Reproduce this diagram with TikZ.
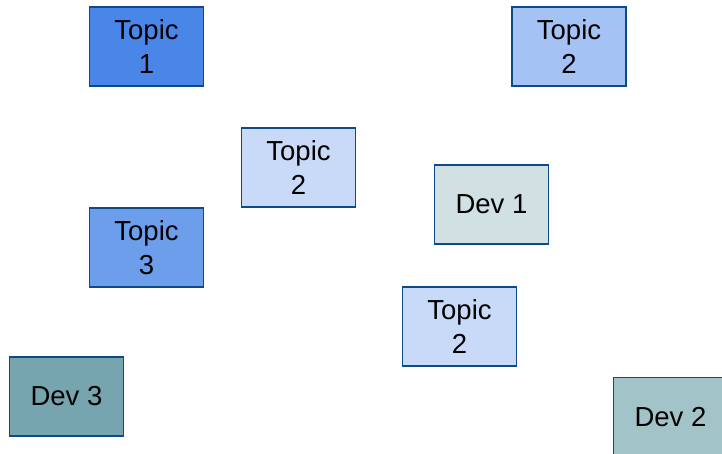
\documentclass[tikz,border=0pt]{standalone}
\usepackage{fontspec}
\setmainfont{Liberation Sans}
\definecolor{bord}{HTML}{0E4A84}
\definecolor{cA}{HTML}{4A86E8}
\definecolor{cB}{HTML}{A4C2F4}
\definecolor{cC}{HTML}{C9DAF8}
\definecolor{cD}{HTML}{6D9EEB}
\definecolor{cE}{HTML}{D0E0E3}
\definecolor{cF}{HTML}{76A5AF}
\definecolor{cG}{HTML}{A2C4C9}
\begin{document}
\begin{tikzpicture}[x=1pt,y=1pt,
  card/.style={draw=bord,line width=1.2pt,minimum width=114pt,minimum height=79pt,
    inner sep=0pt,align=center,font=\fontsize{27.5}{34}\selectfont,text=black}]
\useasboundingbox (0,0) rectangle (722,-453);
\clip (0,0) rectangle (722,-453);
\node[card,fill=cA] (t1) at (146.5,-46.5) {Topic\\1};
\node[card,fill=cB] (t2a) at (569,-46.5) {Topic\\2};
\node[card,fill=cC] (t2b) at (298.5,-167.5) {Topic\\2};
\node[card,fill=cE] (d1) at (491.5,-204.5) {Dev 1};
\node[card,fill=cD] (t3) at (146.5,-247.5) {Topic\\3};
\node[card,fill=cC] (t2c) at (459.5,-326.5) {Topic\\2};
\node[card,fill=cF] (d3) at (66.5,-396.5) {Dev 3};
\node[card,fill=cG] (d2) at (670.5,-417) {Dev 2};
\end{tikzpicture}
\end{document}
